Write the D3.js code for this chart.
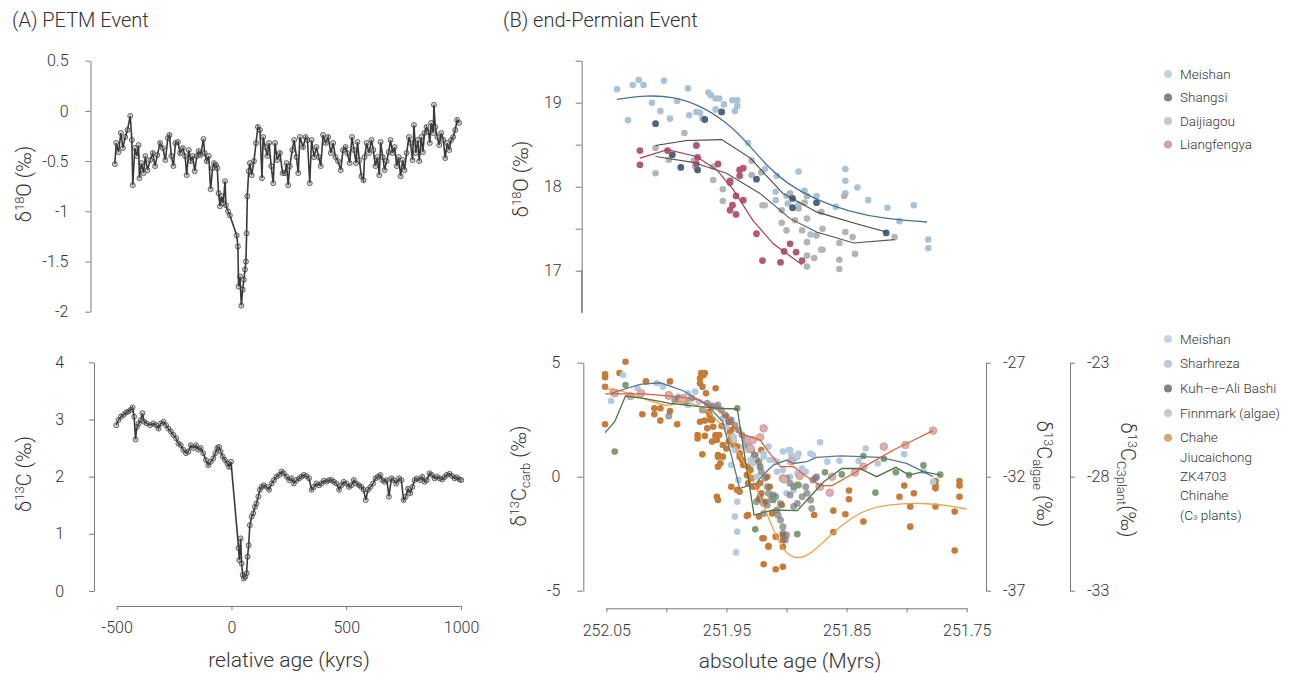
<!DOCTYPE html>
<html lang="en">
<head>
  <meta charset="UTF-8">
  <title>PETM vs end-Permian</title>
  <style>
    body { margin: 0; background: #fff; }
    svg text { font-family: Roboto, "Liberation Sans", sans-serif; font-weight: 300; fill: #333; }
  </style>
</head>
<body>
  <svg width="1295" height="673" id="chart"></svg>
  <script src="https://cdn.jsdelivr.net/npm/d3@7"></script>
  <script>
    // ---- (A) PETM: [relative age kyr, value] ----
    const petmO18 = [[-508,-0.53],[-502,-0.32],[-492,-0.41],[-482,-0.22],[-473,-0.37],[-463,-0.26],[-453,-0.19],[-441,-0.05],[-434,-0.29],[-430,-0.74],[-421,-0.37],[-412,-0.45],[-405,-0.34],[-401,-0.67],[-392,-0.52],[-383,-0.62],[-375,-0.45],[-366,-0.59],[-354,-0.49],[-343,-0.42],[-333,-0.55],[-323,-0.44],[-311,-0.32],[-299,-0.37],[-288,-0.49],[-277,-0.27],[-270,-0.24],[-262,-0.45],[-253,-0.55],[-244,-0.32],[-233,-0.31],[-224,-0.42],[-212,-0.37],[-202,-0.45],[-195,-0.64],[-186,-0.39],[-177,-0.50],[-169,-0.45],[-160,-0.60],[-151,-0.45],[-143,-0.40],[-134,-0.44],[-122,-0.28],[-117,-0.42],[-108,-0.50],[-99,-0.45],[-91,-0.78],[-82,-0.57],[-76,-0.52],[-67,-0.54],[-62,-0.57],[-56,-0.82],[-50,-0.95],[-44,-0.85],[-36,-0.92],[-28,-0.70],[-24,-0.94],[-15,-1.00],[-7,-1.04],[23,-1.24],[28,-1.35],[31,-1.75],[37,-1.65],[43,-1.94],[49,-1.78],[54,-1.68],[59,-1.58],[63,-1.50],[66,-1.22],[69,-0.85],[75,-0.60],[80,-0.52],[88,-0.64],[98,-0.50],[107,-0.32],[115,-0.16],[124,-0.19],[133,-0.67],[138,-0.26],[147,-0.36],[156,-0.45],[164,-0.32],[173,-0.55],[182,-0.72],[190,-0.32],[199,-0.49],[211,-0.42],[223,-0.62],[233,-0.62],[240,-0.52],[247,-0.74],[254,-0.55],[265,-0.39],[273,-0.29],[283,-0.46],[291,-0.62],[298,-0.26],[312,-0.36],[323,-0.26],[331,-0.29],[341,-0.72],[349,-0.29],[360,-0.46],[370,-0.36],[380,-0.46],[389,-0.55],[399,-0.24],[410,-0.32],[421,-0.26],[433,-0.42],[443,-0.32],[453,-0.46],[464,-0.50],[476,-0.59],[486,-0.39],[497,-0.36],[505,-0.42],[515,-0.52],[525,-0.26],[534,-0.39],[543,-0.52],[549,-0.31],[557,-0.49],[566,-0.65],[575,-0.69],[580,-0.46],[589,-0.32],[599,-0.42],[610,-0.29],[618,-0.39],[627,-0.55],[636,-0.46],[644,-0.64],[650,-0.31],[659,-0.46],[667,-0.59],[676,-0.50],[685,-0.41],[693,-0.29],[702,-0.42],[711,-0.36],[720,-0.55],[728,-0.46],[737,-0.65],[746,-0.49],[754,-0.59],[763,-0.42],[773,-0.26],[780,-0.32],[789,-0.49],[795,-0.14],[803,-0.42],[812,-0.29],[818,-0.50],[827,-0.26],[834,-0.41],[841,-0.22],[850,-0.16],[859,-0.21],[864,-0.32],[870,-0.12],[879,-0.22],[882,0.06],[888,-0.16],[897,-0.26],[905,-0.34],[914,-0.22],[923,-0.29],[931,-0.47],[940,-0.32],[949,-0.39],[957,-0.29],[966,-0.26],[975,-0.19],[983,-0.09],[992,-0.12]];

    const petmC13 = [[-502,2.90],[-492,2.99],[-482,3.05],[-470,3.08],[-459,3.12],[-449,3.14],[-438,3.17],[-431,3.21],[-424,3.05],[-418,2.65],[-412,2.87],[-404,2.93],[-395,2.99],[-388,3.11],[-380,2.96],[-369,2.93],[-354,2.90],[-340,2.93],[-328,2.90],[-318,2.84],[-308,2.93],[-296,2.96],[-285,2.90],[-275,2.84],[-264,2.79],[-253,2.73],[-241,2.67],[-231,2.58],[-221,2.55],[-210,2.47],[-198,2.41],[-188,2.44],[-177,2.55],[-166,2.50],[-154,2.55],[-144,2.47],[-134,2.50],[-123,2.41],[-111,2.29],[-101,2.20],[-90,2.26],[-79,2.32],[-70,2.41],[-62,2.50],[-54,2.52],[-47,2.44],[-38,2.35],[-28,2.29],[-18,2.23],[-10,2.17],[-2,2.26],[31,0.75],[34,0.54],[40,0.92],[44,0.48],[49,0.28],[54,0.22],[60,0.25],[66,0.31],[70,0.60],[75,0.80],[80,1.15],[88,1.30],[95,1.36],[102,1.47],[109,1.53],[117,1.65],[124,1.77],[131,1.82],[141,1.85],[153,1.82],[164,1.77],[175,1.88],[185,1.94],[196,2.00],[208,2.03],[218,2.09],[228,2.06],[240,2.00],[251,1.94],[262,1.97],[272,1.88],[283,1.94],[295,1.97],[305,2.00],[315,2.03],[327,2.01],[338,1.97],[349,1.77],[359,1.82],[370,1.88],[382,1.85],[392,1.88],[402,1.93],[414,1.91],[425,1.94],[436,1.94],[446,1.91],[457,1.88],[469,1.77],[479,1.85],[489,1.91],[501,1.88],[512,1.82],[523,1.85],[533,1.94],[544,1.88],[556,1.85],[566,1.82],[576,1.77],[585,1.59],[595,1.77],[605,1.82],[617,1.88],[628,1.97],[638,2.00],[649,2.03],[657,1.94],[667,1.91],[677,1.94],[686,1.65],[697,1.97],[707,1.94],[718,1.88],[730,1.97],[740,1.94],[750,1.59],[759,1.65],[769,1.79],[779,1.71],[788,1.82],[798,1.94],[808,1.97],[820,1.94],[831,2.00],[841,1.91],[851,1.94],[863,2.06],[873,2.03],[885,1.97],[895,2.00],[907,1.97],[918,1.95],[928,1.99],[938,2.03],[950,2.05],[962,2.01],[972,1.97],[982,1.99],[994,1.95],[1001,1.94]];

    // ---- (B) end-Permian d18O: [age Myr, permil] ----
    const o18Meishan = [[252.041,19.16],[252.032,18.79],[252.028,19.21],[252.023,19.27],[252.019,19.21],[252.012,19.00],[252.005,18.90],[252.002,19.26],[251.997,18.81],[251.991,19.02],[251.982,19.17],[251.981,18.85],[251.975,18.89],[251.972,18.88],[251.970,18.81],[251.975,18.50],[251.965,19.12],[251.963,19.09],[251.959,19.05],[251.956,19.05],[251.959,18.92],[251.952,18.98],[251.945,19.03],[251.941,19.03],[251.941,18.96],[251.943,18.90],[251.932,18.52],[251.918,18.21],[251.908,18.13],[251.909,17.94],[251.909,17.84],[251.900,17.89],[251.899,17.80],[251.890,18.18],[251.890,17.79],[251.885,17.95],[251.875,17.89],[251.880,17.43],[251.859,17.76],[251.851,18.21],[251.851,18.07],[251.851,17.92],[251.841,17.99],[251.832,17.84],[251.816,17.75],[251.806,17.59],[251.794,17.78],[251.782,17.37],[251.782,17.27],[251.918,17.78]];
    const o18Shangsi = [[252.009,18.75],[251.995,18.38],[251.988,18.23],[251.974,18.20],[251.968,18.80],[251.954,18.89],[251.925,18.09],[251.895,17.86],[251.895,17.75],[251.875,17.81],[251.817,17.45]];
    const o18Daijiagou = [[252.009,18.46],[252.009,18.16],[251.998,18.32],[251.985,18.64],[251.977,18.31],[251.976,18.24],[251.961,18.24],[251.961,18.08],[251.953,17.97],[251.953,17.83],[251.929,18.31],[251.929,18.14],[251.921,18.17],[251.920,17.78],[251.904,17.72],[251.904,17.57],[251.900,17.48],[251.897,17.92],[251.893,17.60],[251.890,17.74],[251.887,17.48],[251.885,17.81],[251.883,17.89],[251.883,17.62],[251.883,17.34],[251.883,17.18],[251.883,17.05],[251.877,17.15],[251.875,17.42],[251.871,17.70],[251.871,17.25],[251.870,17.50],[251.870,17.25],[251.856,17.33],[251.856,17.13],[251.856,17.02],[251.852,17.89],[251.851,17.46],[251.845,17.40],[251.843,17.20],[251.810,17.40]];
    const o18Liangfengya = [[252.022,18.43],[252.022,18.26],[251.999,18.43],[251.975,18.49],[251.974,18.35],[251.975,18.27],[251.957,18.27],[251.947,18.07],[251.947,18.05],[251.942,17.89],[251.945,17.78],[251.947,17.72],[251.942,17.67],[251.936,17.84],[251.939,18.20],[251.936,18.22],[251.939,18.13],[251.925,17.44],[251.920,17.12],[251.905,17.10],[251.902,17.23],[251.897,17.32],[251.892,17.22],[251.887,17.12]];
    // fitted curves
    const fitMeishan18 = [[252.041,19.04],[252.016,19.09],[251.994,19.07],[251.972,18.97],[251.950,18.77],[251.933,18.53],[251.916,18.24],[251.900,18.04],[251.875,17.84],[251.847,17.70],[251.819,17.62],[251.783,17.58]];
    const fitShangsi18 = [[252.009,18.49],[251.983,18.55],[251.954,18.56],[251.930,18.34],[251.916,18.12],[251.903,17.92],[251.875,17.70],[251.847,17.58],[251.817,17.46]];
    const fitDaijiagou18 = [[252.009,18.36],[251.978,18.29],[251.950,18.16],[251.922,17.92],[251.897,17.62],[251.875,17.46],[251.844,17.33],[251.810,17.37]];
    const fitLiangfengya18 = [[252.022,18.34],[251.999,18.44],[251.975,18.36],[251.958,18.20],[251.944,17.96],[251.928,17.60],[251.911,17.32],[251.887,17.07]];

    // ---- (B) end-Permian d13C ----
    // carbonate (permil)
    const c13Meishan = [[252.046,3.32],[252.036,4.46],[252.024,3.88],[252.008,4.10],[252.003,3.95],[251.990,3.51],[251.987,3.29],[251.982,3.66],[251.976,3.73],[251.982,3.14],[251.973,3.29],[251.962,3.14],[251.958,3.07],[251.953,2.56],[251.950,2.19],[251.947,2.49],[251.944,1.76],[251.944,1.61],[251.943,1.17],[251.946,0.51],[251.940,-0.14],[251.941,-1.10],[251.943,-1.75],[251.941,-2.41],[251.942,-3.32]];
    const c13Sharhreza = [[251.936,1.32],[251.932,1.17],[251.930,0.73],[251.928,0.58],[251.926,0.88],[251.925,0.00],[251.922,0.44],[251.919,0.88],[251.919,1.03],[251.915,1.32],[251.914,0.73],[251.911,0.73],[251.908,0.22],[251.908,0.66],[251.903,1.10],[251.903,0.29],[251.900,-0.73],[251.898,1.17],[251.897,1.17],[251.897,0.00],[251.896,0.95],[251.894,-0.58],[251.893,0.80],[251.891,0.88],[251.891,0.15],[251.890,1.02],[251.887,0.36],[251.884,0.22],[251.880,1.02],[251.878,0.95],[251.872,1.51],[251.866,0.66],[251.856,0.70],[251.840,0.69],[251.834,1.24],[251.824,0.58],[251.802,0.99],[251.786,0.25],[251.778,-0.22]];
    const c13Kuh = [[251.998,2.66],[251.993,3.36],[251.990,3.44],[251.984,3.29],[251.979,3.44],[251.970,2.93],[251.966,3.22],[251.962,3.07],[251.957,3.14],[251.954,2.93],[251.951,2.71],[251.948,2.41],[251.946,2.49],[251.943,2.27],[251.940,2.05],[251.937,1.83],[251.934,1.61],[251.932,1.39],[251.929,1.17],[251.926,0.95],[251.923,0.66],[251.922,0.44],[251.921,0.22],[251.918,-0.07],[251.916,-0.44],[251.915,-0.73],[251.922,-0.88],[251.919,-1.17],[251.916,-1.24],[251.911,-0.80],[251.908,-1.46],[251.907,-1.68],[251.905,-1.90],[251.903,-2.19],[251.903,-2.48],[251.901,-2.78],[251.900,-2.56],[251.897,-0.80],[251.894,-1.31],[251.894,-0.44],[251.890,-0.36],[251.887,-0.88],[251.884,-0.44],[251.883,-0.73],[251.880,-1.02],[251.879,-1.39],[251.878,-0.15],[251.876,-0.07],[251.875,0.00],[251.873,-0.44],[251.900,-0.07],[251.897,-0.29],[251.891,-1.17],[251.905,-1.17],[251.909,-0.88],[251.913,-0.99],[251.925,-1.10],[251.919,-1.61]];
    const c13Green = [[252.043,1.10],[252.034,4.02],[251.941,3.00],[251.926,-2.31],[251.911,-1.02],[251.891,-2.52],[251.891,-0.36],[251.868,0.19],[251.854,0.10],[251.836,0.91],[251.826,-0.70],[251.819,0.79],[251.809,0.19],[251.798,0.07],[251.786,0.50],[251.772,0.09]];
    // algae (permil, right axis 1)
    const c13Algae = [[252.044,-28.30],[252.043,-28.34],[252.030,-28.46],[252.021,-28.34],[251.998,-28.45],[251.998,-28.42],[251.987,-28.64],[251.986,-28.56],[251.932,-30.39],[251.930,-30.76],[251.928,-30.39],[251.922,-30.27],[251.919,-29.88],[251.903,-32.07],[251.902,-32.12],[251.896,-31.33],[251.889,-31.97],[251.872,-32.44],[251.864,-32.70],[251.862,-32.00],[251.843,-31.82],[251.836,-31.56],[251.819,-30.68],[251.801,-30.61],[251.778,-29.98]];
    // C3 plants (permil, right axis 2)
    const c13Plant = [[252.051,-23.51],[252.051,-23.64],[252.051,-24.06],[252.051,-25.70],[252.039,-23.45],[252.034,-22.96],[252.020,-25.26],[252.017,-23.82],[252.010,-25.00],[252.010,-25.26],[252.005,-25.00],[252.005,-25.54],[251.997,-23.82],[251.997,-25.12],[251.991,-25.70],[251.972,-23.68],[251.972,-23.90],[251.971,-23.45],[251.969,-23.54],[251.968,-23.45],[251.970,-24.06],[251.967,-24.34],[251.959,-24.12],[251.972,-25.59],[251.974,-26.17],[251.968,-25.54],[251.966,-25.88],[251.965,-25.15],[251.964,-25.29],[251.962,-25.51],[251.961,-25.81],[251.968,-26.21],[251.970,-27.02],[251.962,-26.46],[251.959,-26.24],[251.957,-27.56],[251.957,-27.05],[251.953,-27.12],[251.950,-26.76],[251.956,-26.17],[251.958,-28.88],[251.954,-25.78],[251.948,-26.46],[251.946,-28.44],[251.946,-25.95],[251.944,-26.39],[251.939,-27.12],[251.939,-28.66],[251.932,-27.56],[251.932,-29.68],[251.932,-27.93],[251.927,-27.08],[251.925,-28.44],[251.923,-28.99],[251.921,-26.83],[251.920,-30.70],[251.919,-31.84],[251.915,-31.04],[251.914,-28.44],[251.909,-30.63],[251.909,-32.06],[251.904,-29.24],[251.903,-30.78],[251.903,-31.07],[251.903,-31.95],[251.877,-29.68],[251.861,-29.49],[251.861,-30.43],[251.851,-29.65],[251.848,-28.99],[251.848,-28.61],[251.836,-29.97],[251.806,-28.88],[251.802,-28.39],[251.797,-29.31],[251.797,-30.19],[251.794,-28.73],[251.776,-28.19],[251.776,-28.39],[251.776,-28.51],[251.776,-29.31],[251.760,-29.53],[251.760,-31.24],[251.756,-28.19],[251.756,-28.39],[251.756,-28.88],[251.958,-26.39],[251.957,-27.12],[251.955,-27.41],[251.953,-26.61],[251.950,-25.37],[251.948,-25.59],[251.947,-26.02],[251.946,-26.32],[251.944,-26.61],[251.941,-26.68],[251.939,-26.97],[251.937,-27.27],[251.936,-27.49],[251.933,-27.93],[251.932,-28.29],[251.930,-27.71],[251.929,-28.07],[251.928,-28.44],[251.925,-27.27],[251.922,-28.29],[251.921,-28.73],[251.918,-29.10],[251.916,-28.00],[251.912,-29.61],[251.933,-29.72],[251.957,-29.02],[251.941,-28.58],[251.923,-29.75],[251.919,-30.70],[251.915,-31.07],[251.903,-30.56],[251.963,-25.51],[251.959,-26.17],[251.974,-26.32]];
    // fitted curves
    const fitMeishan13 = [[252.046,3.66],[252.022,4.05],[252.005,4.12],[251.986,3.77],[251.966,3.14],[251.953,2.41],[251.939,-0.51],[251.925,-0.29],[251.921,0.00],[251.911,0.51],[251.900,0.73],[251.894,0.58],[251.883,0.66],[251.875,0.85],[251.855,0.91],[251.822,0.85],[251.800,0.58],[251.778,0.00]];
    const fitGreen13 = [[252.051,1.93],[252.043,2.41],[252.034,3.54],[252.019,3.44],[251.997,3.22],[251.972,3.07],[251.955,3.00],[251.941,2.97],[251.927,-1.68],[251.911,-1.46],[251.891,-1.49],[251.869,-0.22],[251.854,0.36],[251.839,0.36],[251.825,0.00],[251.809,0.41],[251.798,0.07],[251.786,0.22],[251.772,0.07]];
    const fitAlgae13 = [[252.051,-28.37],[252.019,-28.37],[251.991,-28.49],[251.972,-28.64],[251.955,-29.15],[251.939,-30.10],[251.922,-30.39],[251.914,-30.98],[251.905,-31.56],[251.894,-31.56],[251.883,-32.00],[251.872,-32.39],[251.862,-32.39],[251.844,-31.85],[251.828,-31.34],[251.811,-30.83],[251.794,-30.39],[251.778,-29.98]];
    const fitPlant13 = [[252.051,-24.17],[252.041,-24.15],[252.028,-24.42],[252.011,-24.71],[251.997,-24.97],[251.989,-24.64],[251.978,-24.78],[251.966,-25.07],[251.955,-25.66],[251.944,-26.54],[251.932,-27.71],[251.922,-28.88],[251.911,-30.34],[251.903,-31.21],[251.894,-31.61],[251.883,-31.51],[251.872,-31.00],[251.861,-30.44],[251.850,-29.97],[251.836,-29.49],[251.822,-29.29],[251.805,-29.17],[251.783,-29.17],[251.764,-29.27],[251.750,-29.42]];

    const legendO18 = [['Meishan', '#c2d3e1'], ['Shangsi', '#828282'], ['Daijiagou', '#c9c9c9'], ['Liangfengya', '#d3a0ad']];

    let svg = d3.select('#chart');
    let fmt = d => String(d);

    let xA = d3.scaleLinear([-500, 1000], [116.7, 461]);
    let yA1 = d3.scaleLinear([-2, 0.5], [311.7, 60.7]);
    let yA2 = d3.scaleLinear([0, 4], [591, 362.3]);
    let xB = d3.scaleLinear([252.05, 251.75], [606.3, 966.7]);
    let yB1 = d3.scaleLinear([16.5, 19.5], [312.7, 60.7]);
    let yB2 = d3.scaleLinear([-5, 5], [590.7, 362.7]);
    let yAlg = d3.scaleLinear([-37, -27], [590.7, 362.7]);
    let yPl = d3.scaleLinear([-33, -23], [590.7, 362.7]);

    let drawAxis = function (axis, x, y) {
      let g = svg.append('g').attr('transform', `translate(${x},${y})`).call(axis);
      g.attr('font-family', null).attr('font-size', null);
      g.select('.domain').attr('stroke', '#7a7a7a');
      g.selectAll('.tick line').attr('stroke', '#7a7a7a');
      g.selectAll('.tick text').attr('fill', '#333').style('font-size', '16px');
      return g;
    };

    // titles
    svg.append('text').attr('x', 12).attr('y', 27).style('font-size', '20px').text('(A) PETM Event');
    svg.append('text').attr('x', 503).attr('y', 27).style('font-size', '20px').text('(B) end-Permian Event');

    // ---------- panel A ----------
    drawAxis(d3.axisLeft(yA1).tickValues([0.5, 0, -0.5, -1, -1.5, -2]).tickFormat(fmt)
      .tickSize(5).tickSizeOuter(0).tickPadding(17), 90.5, 0);
    drawAxis(d3.axisLeft(yA2).tickValues([0, 1, 2, 3, 4]).tickFormat(fmt)
      .tickSize(5).tickSizeOuter(0).tickPadding(25), 94, 0);
    drawAxis(d3.axisBottom(xA).tickValues([-500, 0, 500, 1000]).tickFormat(fmt)
      .tickSize(4).tickSizeOuter(0).tickPadding(12), 0, 606);

    let drawSeriesA = function (data, y) {
      let line = d3.line().x(d => xA(d[0])).y(d => y(d[1]));
      svg.append('path').datum(data).attr('d', line)
        .attr('fill', 'none').attr('stroke', '#3a3a3a').attr('stroke-width', 1.6);
      svg.append('g').selectAll('circle').data(data).join('circle')
        .attr('cx', d => xA(d[0])).attr('cy', d => y(d[1])).attr('r', 2.5)
        .attr('fill', '#777').attr('fill-opacity', 0.3)
        .attr('stroke', '#2a2a2a').attr('stroke-width', 0.8).attr('stroke-opacity', 0.85);
    };
    drawSeriesA(petmO18, yA1);
    drawSeriesA(petmC13, yA2);

    let yTitle = function (x, y, rot, parts) {
      let t = svg.append('text').attr('transform', `translate(${x},${y}) rotate(${rot})`)
        .attr('text-anchor', 'middle').style('font-size', '20px');
      parts.forEach(p => {
        let s = t.append('tspan').text(p[0]);
        if (p[1] === 'sup') s.style('font-size', '13px').attr('dy', -7);
        if (p[1] === 'sub') s.style('font-size', '13px').attr('dy', 4);
        if (p[2]) s.attr('dy', p[2]);
      });
      return t;
    };
    yTitle(31, 184, -90, [['δ'], ['18', 'sup'], ['O (‰)', null, 7]]);
    yTitle(31, 474, -90, [['δ'], ['13', 'sup'], ['C (‰)', null, 7]]);
    svg.append('text').attr('x', 289).attr('y', 667).attr('text-anchor', 'middle')
      .style('font-size', '21px').text('relative age (kyrs)');

    // ---------- panel B axes ----------
    drawAxis(d3.axisLeft(yB1).tickValues([19.5, 19, 18.5, 18, 17.5, 17])
      .tickFormat(d => (d % 1 === 0 ? fmt(d) : '')).tickSize(6).tickSizeOuter(0).tickPadding(14), 581.7, 0);
    svg.append('line').attr('x1', 581.7).attr('x2', 581.7).attr('y1', 270).attr('y2', 312.7).attr('stroke', '#7a7a7a');
    drawAxis(d3.axisLeft(yB2).tickValues([5, 0, -5]).tickFormat(fmt)
      .tickSize(6).tickSizeOuter(0).tickPadding(17), 583.3, 0);
    drawAxis(d3.axisRight(yAlg).tickValues([-27, -32, -37]).tickFormat(fmt)
      .tickSize(5).tickSizeOuter(0).tickPadding(12), 986, 0);
    drawAxis(d3.axisRight(yPl).tickValues([-23, -28, -33]).tickFormat(fmt)
      .tickSize(5).tickSizeOuter(0).tickPadding(12), 1070, 0);
    let bTicks = [252.05, 252.0, 251.95, 251.9, 251.85, 251.8, 251.75];
    drawAxis(d3.axisBottom(xB).tickValues(bTicks)
      .tickFormat((d, i) => (i % 2 === 0 ? d3.format('.2f')(d) : ''))
      .tickSize(4).tickSizeOuter(0).tickPadding(12), 0, 608.3);

    yTitle(528, 179, -90, [['δ'], ['18', 'sup'], ['O (‰)', null, 7]]);
    yTitle(526, 476, -90, [['δ'], ['13', 'sup'], ['C', null, 7], ['carb', 'sub'], [' (‰)', null, -4]]);
    yTitle(1037, 474, 90, [['δ'], ['13', 'sup'], ['C', null, 7], ['algae', 'sub'], [' (‰)', null, -4]]);
    yTitle(1121, 480, 90, [['δ'], ['13', 'sup'], ['C', null, 7], ['C3plant', 'sub'], ['(‰)', null, -4]]);
    svg.append('text').attr('x', 790).attr('y', 668).attr('text-anchor', 'middle')
      .style('font-size', '21px').text('absolute age (Myrs)');

    // ---------- panel B top: d18O ----------
    let dots = function (data, y, fill, r, extra) {
      let c = svg.append('g').selectAll('circle').data(data).join('circle')
        .attr('cx', d => xB(d[0])).attr('cy', d => y(d[1])).attr('r', r).attr('fill', fill);
      if (extra) extra(c);
    };
    let fit = function (data, y, color, curve, w) {
      let line = d3.line().x(d => xB(d[0])).y(d => y(d[1])).curve(curve);
      svg.append('path').datum(data).attr('d', line).attr('fill', 'none')
        .attr('stroke', color).attr('stroke-width', w || 1.3);
    };

    dots(o18Meishan, yB1, '#a9c2d6', 3.3);
    dots(o18Daijiagou, yB1, '#b4b4b4', 3.3);
    dots(o18Shangsi, yB1, '#4c6480', 3.4);
    dots(o18Liangfengya, yB1, '#b25a72', 3.4);
    fit(fitMeishan18, yB1, '#4b7195', d3.curveBasis);
    fit(fitDaijiagou18, yB1, '#555', d3.curveLinear, 1.1);
    fit(fitShangsi18, yB1, '#444', d3.curveLinear, 1.1);
    fit(fitLiangfengya18, yB1, '#a3415c', d3.curveLinear, 1.2);

    // ---------- panel B bottom: d13C ----------
    dots(c13Plant, yPl, '#c47c37', 3.3);
    dots(c13Meishan, yB2, '#b5cadc', 3.3);
    dots(c13Sharhreza, yB2, '#b5cadc', 3.3);
    dots(c13Kuh, yB2, '#777', 3.5, c => c.attr('fill-opacity', 0.7));
    dots(c13Green, yB2, '#7f9c77', 3.3);
    dots(c13Algae, yAlg, '#dab0b0', 3.8, c => c.attr('stroke', '#c49595').attr('stroke-width', 0.8));
    fit(fitPlant13, yPl, '#f0a04f', d3.curveBasis, 1.3);
    fit(fitMeishan13, yB2, '#5a7794', d3.curveLinear, 1.3);
    fit(fitAlgae13, yAlg, '#d6643e', d3.curveLinear, 1.3);
    fit(fitGreen13, yB2, '#4e7444', d3.curveLinear, 1.3);

    // ---------- legends ----------
    let legend = function (items, y0, step) {
      let g = svg.append('g');
      items.forEach((it, i) => {
        let y = y0 + i * step;
        g.append('circle').attr('cx', 1168).attr('cy', y).attr('r', 4).attr('fill', it[1]);
        let t = g.append('text').attr('x', 1180).attr('y', y + 4.5).style('font-size', '13.5px').attr('fill', '#444');
        it[0].forEach((ln, j) => {
          let s = t.append('tspan').attr('x', 1180).attr('dy', j === 0 ? 0 : 19.3);
          if (ln === '(C3 plants)') {
            s.text('(C');
            s.append('tspan').text('3').style('font-size', '8px');
            s.append('tspan').text(' plants)');
          } else s.text(ln);
        });
      });
    };
    legend(legendO18.map(d => [[d[0]], d[1]]), 74, 23.5);
    const legendC13 = [[['Meishan'], '#c5d5e3'], [['Sharhreza'], '#b8ccdd'], [['Kuh−e−Ali Bashi'], '#828282'],
      [['Finnmark (algae)'], '#c9c9c9'], [['Chahe', 'Jiucaichong', 'ZK4703', 'Chinahe', '(C3 plants)'], '#d6a675']];
    legend(legendC13, 339, 24.7);
  </script>
</body>
</html>
